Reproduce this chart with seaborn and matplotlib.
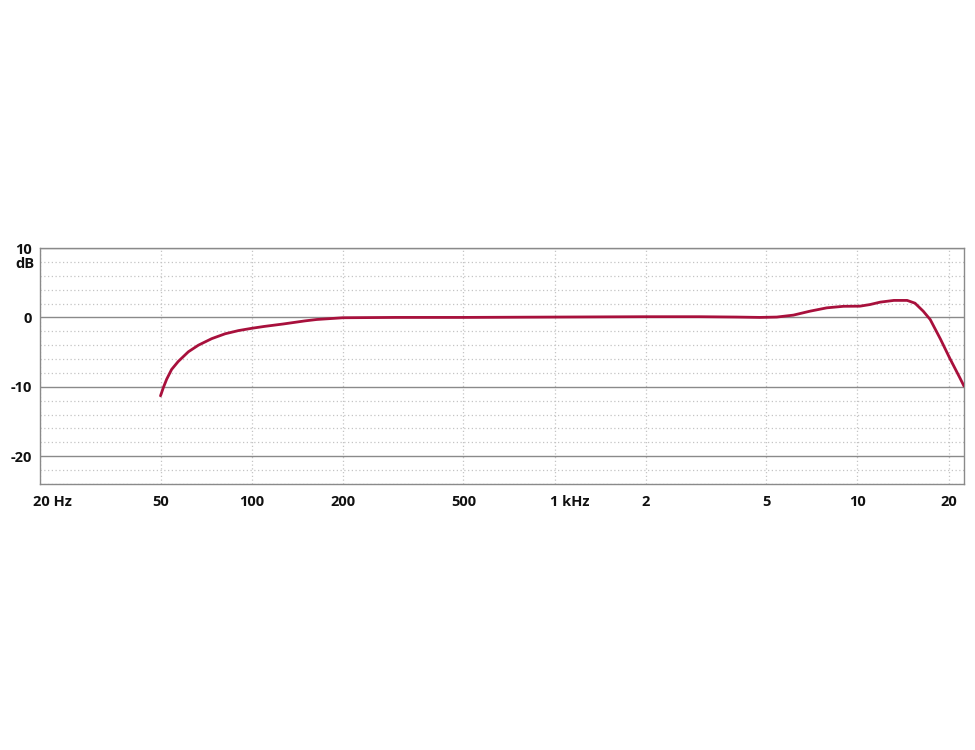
import matplotlib
matplotlib.use("Agg")
import matplotlib.pyplot as plt
import matplotlib.transforms as mtransforms
from matplotlib.ticker import FixedLocator, MultipleLocator, NullFormatter
import seaborn as sns
import pandas as pd

# Frequency response (Hz, dB)
freq_hz = [50, 51.1, 52.4, 54.4, 57.2, 61.8, 66.7, 73.8, 81.7, 90.4, 100,
           110, 127, 150, 164, 200, 300, 500, 1000, 2000, 3000, 4000, 4770,
           5420, 6150, 6980, 7930, 9000, 10200, 11000, 11900, 13200, 14600,
           15500, 16500, 17400, 18800, 20200, 21800, 22500]
level_db = [-11.3, -10.1, -8.9, -7.5, -6.35, -4.95, -4.0, -3.06, -2.36, -1.9,
            -1.57, -1.3, -0.95, -0.5, -0.3, -0.05, 0.0, 0.0, 0.05, 0.1, 0.1,
            0.05, 0.0, 0.05, 0.33, 0.9, 1.38, 1.6, 1.62, 1.85, 2.2, 2.45,
            2.45, 2.05, 0.9, -0.3, -3.1, -5.9, -8.7, -9.9]

x_ticks = [20, 50, 100, 200, 500, 1000, 2000, 5000, 10000, 20000]
x_tick_labels = ["20 Hz", "50", "100", "200", "500", "1 kHz", "2", "5", "10", "20"]
y_ticks = [-20, -10, 0, 10]
y_tick_labels = ["-20", "-10", "0", "10"]

df = pd.DataFrame({"freq": freq_hz, "level": level_db})

sns.set_style("white")
plt.rcParams["font.family"] = ["Open Sans", "DejaVu Sans"]

fig = plt.figure(figsize=(9.75, 7.5), dpi=100)
ax = fig.add_axes([40 / 975, 1 - 484 / 750, (964 - 40) / 975, (484 - 248) / 750])

sns.lineplot(data=df, x="freq", y="level", ax=ax, color="#a8103c",
             linewidth=2.0, zorder=5)
ax.lines[-1].set_solid_joinstyle("round")

ax.set_xscale("log")
ax.set_xlim(20, 22500)
ax.set_ylim(-24, 10)

ax.xaxis.set_major_locator(FixedLocator(x_ticks))
ax.xaxis.set_minor_locator(FixedLocator([]))
ax.set_xticklabels(x_tick_labels)
ax.yaxis.set_major_locator(FixedLocator(y_ticks))
ax.set_yticklabels(y_tick_labels)
ax.yaxis.set_minor_locator(MultipleLocator(2))
ax.yaxis.set_minor_formatter(NullFormatter())

ax.set_xlabel("")
ax.set_ylabel("")

ax.grid(False)
ax.grid(axis="y", which="major", color="#8a8a8a", linestyle="-", linewidth=1.0)
ax.grid(axis="y", which="minor", color="#c4c4c4", linestyle=(0, (1, 2)), linewidth=0.9)
ax.grid(axis="x", which="major", color="#c4c4c4", linestyle=(0, (1, 2)), linewidth=0.9)

ax.tick_params(axis="both", which="both", length=0)
ax.tick_params(axis="x", pad=8, labelsize=10.5)
ax.tick_params(axis="y", pad=6, labelsize=10.5)
for lbl in ax.get_xticklabels() + ax.get_yticklabels():
    lbl.set_fontweight("bold")
    lbl.set_color("#111111")

# number centred on tick, unit to the right
for lbl in ax.get_xticklabels():
    t = lbl.get_text()
    if t == "20 Hz":
        lbl.set_horizontalalignment("left")
        lbl.set_transform(lbl.get_transform() + mtransforms.ScaledTranslation(-7 / 100, 0, fig.dpi_scale_trans))
    elif t == "1 kHz":
        lbl.set_horizontalalignment("left")
        lbl.set_transform(lbl.get_transform() + mtransforms.ScaledTranslation(-5 / 100, 0, fig.dpi_scale_trans))

for sp in ax.spines.values():
    sp.set_visible(True)
    sp.set_color("#8a8a8a")
    sp.set_linewidth(1.0)

fig.text(34 / 975, 1 - 264 / 750, "dB", ha="right", va="center",
         fontsize=10.5, fontweight="bold", color="#111111")

fig.savefig("out.png", dpi=100, facecolor="white")
